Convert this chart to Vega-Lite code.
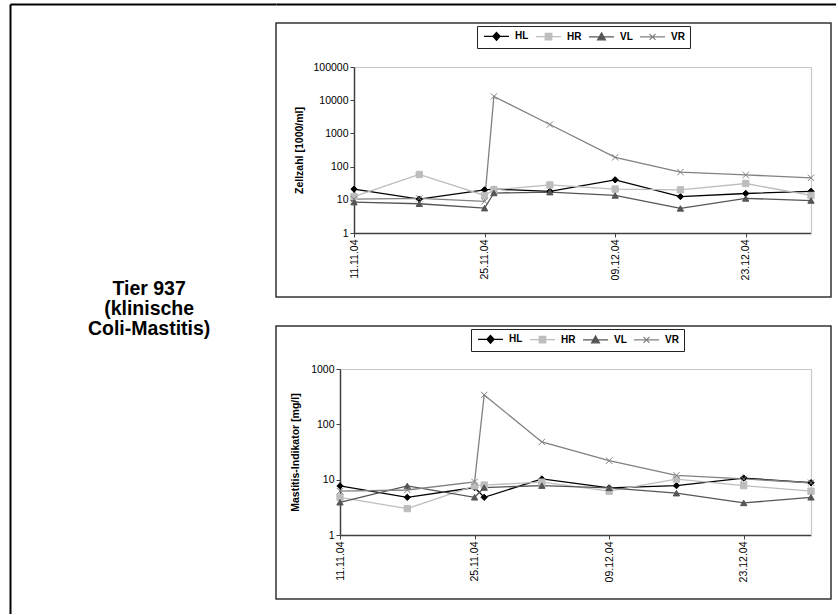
{
  "$schema": "https://vega.github.io/schema/vega-lite/v6.json",
  "background": "white",
  "padding": {"left": 10, "top": 4, "right": 0, "bottom": 0},
  "autosize": {"type": "pad"},
  "bounds": "flush",
  "spacing": 0,
  "resolve": {"legend": {"color": "independent", "stroke": "independent", "shape": "independent"}},
  "datasets": {
    "zell": [
      {"date": "2004-11-11", "series": "HL", "value": 21},
      {"date": "2004-11-18", "series": "HL", "value": 10.5},
      {"date": "2004-11-25", "series": "HL", "value": 20},
      {"date": "2004-11-26", "series": "HL", "value": 21},
      {"date": "2004-12-02", "series": "HL", "value": 18},
      {"date": "2004-12-09", "series": "HL", "value": 40},
      {"date": "2004-12-16", "series": "HL", "value": 12.5},
      {"date": "2004-12-23", "series": "HL", "value": 15.5},
      {"date": "2004-12-30", "series": "HL", "value": 18},
      {"date": "2004-11-11", "series": "HR", "value": 12.5},
      {"date": "2004-11-18", "series": "HR", "value": 58},
      {"date": "2004-11-25", "series": "HR", "value": 13.5},
      {"date": "2004-11-26", "series": "HR", "value": 20},
      {"date": "2004-12-02", "series": "HR", "value": 28},
      {"date": "2004-12-09", "series": "HR", "value": 21},
      {"date": "2004-12-16", "series": "HR", "value": 20},
      {"date": "2004-12-23", "series": "HR", "value": 31},
      {"date": "2004-12-30", "series": "HR", "value": 13.5},
      {"date": "2004-11-11", "series": "VL", "value": 8.5},
      {"date": "2004-11-18", "series": "VL", "value": 7.6},
      {"date": "2004-11-25", "series": "VL", "value": 5.6},
      {"date": "2004-11-26", "series": "VL", "value": 16},
      {"date": "2004-12-02", "series": "VL", "value": 17},
      {"date": "2004-12-09", "series": "VL", "value": 13.5},
      {"date": "2004-12-16", "series": "VL", "value": 5.5},
      {"date": "2004-12-23", "series": "VL", "value": 11},
      {"date": "2004-12-30", "series": "VL", "value": 9.5},
      {"date": "2004-11-11", "series": "VR", "value": 10.5},
      {"date": "2004-11-18", "series": "VR", "value": 11},
      {"date": "2004-11-25", "series": "VR", "value": 9},
      {"date": "2004-11-26", "series": "VR", "value": 13000},
      {"date": "2004-12-02", "series": "VR", "value": 1850},
      {"date": "2004-12-09", "series": "VR", "value": 190},
      {"date": "2004-12-16", "series": "VR", "value": 68},
      {"date": "2004-12-23", "series": "VR", "value": 56},
      {"date": "2004-12-30", "series": "VR", "value": 46}
    ],
    "mast": [
      {"date": "2004-11-11", "series": "HL", "value": 7.7},
      {"date": "2004-11-18", "series": "HL", "value": 4.8},
      {"date": "2004-11-25", "series": "HL", "value": 7.2},
      {"date": "2004-11-26", "series": "HL", "value": 4.8},
      {"date": "2004-12-02", "series": "HL", "value": 10.3},
      {"date": "2004-12-09", "series": "HL", "value": 7.1},
      {"date": "2004-12-16", "series": "HL", "value": 7.8},
      {"date": "2004-12-23", "series": "HL", "value": 10.7},
      {"date": "2004-12-30", "series": "HL", "value": 8.8},
      {"date": "2004-11-11", "series": "HR", "value": 4.8},
      {"date": "2004-11-18", "series": "HR", "value": 3.0},
      {"date": "2004-11-25", "series": "HR", "value": 7.7},
      {"date": "2004-11-26", "series": "HR", "value": 8},
      {"date": "2004-12-02", "series": "HR", "value": 9},
      {"date": "2004-12-09", "series": "HR", "value": 6.2},
      {"date": "2004-12-16", "series": "HR", "value": 10.2},
      {"date": "2004-12-23", "series": "HR", "value": 7.8},
      {"date": "2004-12-30", "series": "HR", "value": 6.2},
      {"date": "2004-11-11", "series": "VL", "value": 3.9},
      {"date": "2004-11-18", "series": "VL", "value": 7.7},
      {"date": "2004-11-25", "series": "VL", "value": 4.8},
      {"date": "2004-11-26", "series": "VL", "value": 7.2},
      {"date": "2004-12-02", "series": "VL", "value": 7.8},
      {"date": "2004-12-09", "series": "VL", "value": 7.1},
      {"date": "2004-12-16", "series": "VL", "value": 5.7},
      {"date": "2004-12-23", "series": "VL", "value": 3.8},
      {"date": "2004-12-30", "series": "VL", "value": 4.8},
      {"date": "2004-11-11", "series": "VR", "value": 6.2},
      {"date": "2004-11-18", "series": "VR", "value": 6.5},
      {"date": "2004-11-25", "series": "VR", "value": 9.1},
      {"date": "2004-11-26", "series": "VR", "value": 340},
      {"date": "2004-12-02", "series": "VR", "value": 48},
      {"date": "2004-12-09", "series": "VR", "value": 22},
      {"date": "2004-12-16", "series": "VR", "value": 12},
      {"date": "2004-12-23", "series": "VR", "value": 10.3},
      {"date": "2004-12-30", "series": "VR", "value": 8.8}
    ],
    "caption": [
      {"label": "Tier 937\n(klinische\nColi-Mastitis)"}
    ]
  },
  "hconcat": [
    {
      "width": 266,
      "height": 610,
      "view": {"stroke": null},
      "data": {"name": "caption"},
      "mark": {"type": "text", "font": "Liberation Sans", "fontWeight": "bold", "fontSize": 19.5, "lineBreak": "\n", "lineHeight": 20, "align": "center", "baseline": "middle", "color": "#000000"},
      "encoding": {
        "text": {"field": "label", "type": "nominal"},
        "x": {"datum": 0.523, "type": "quantitative", "scale": {"domain": [0, 1], "nice": false, "zero": false},
              "axis": {"orient": "top", "labels": false, "ticks": false, "grid": false, "title": null, "domainColor": "#000000", "domainWidth": 2}},
        "y": {"datum": 0.533, "type": "quantitative", "scale": {"domain": [0, 1], "nice": false, "zero": false},
              "axis": {"orient": "left", "labels": false, "ticks": false, "grid": false, "title": null, "domainColor": "#000000", "domainWidth": 2}}
      }
    },
    {
      "spacing": 0,
      "bounds": "flush",
      "resolve": {"legend": {"color": "independent", "stroke": "independent", "shape": "independent"}},
      "vconcat": [
        {
          "width": 560,
          "height": 19,
          "view": {"stroke": null},
          "data": {"values": []},
          "mark": "point",
          "encoding": {
            "x": {"datum": 0, "type": "quantitative", "scale": {"domain": [0, 1], "nice": false, "zero": false},
                  "axis": {"orient": "top", "labels": false, "ticks": false, "grid": false, "title": null, "domainColor": "#000000", "domainWidth": 2}}
          }
        },
        {
          "spacing": 29,
          "bounds": "flush",
          "resolve": {"legend": {"color": "independent", "stroke": "independent", "shape": "independent"}},
          "vconcat": [
            {
              "width": 555,
              "height": 274,
              "view": {"stroke": "#333333", "strokeWidth": 1.5},
              "data": {"name": "zell"},
              "resolve": {"scale": {"color": "independent", "shape": "independent", "stroke": "independent"}},
              "layer": [
                {
                  "mark": {"type": "line", "strokeWidth": 1.3},
                  "encoding": {
                    "x": {"field": "date", "type": "temporal",
                          "scale": {"type": "utc", "domain": [{"year": 2004, "month": 11, "date": 11, "utc": true}, {"year": 2004, "month": 12, "date": 30, "utc": true}], "range": [78, 535], "nice": false},
                          "axis": {"orient": "bottom", "offset": -64, "title": null, "format": "%d.%m.%y", "labelAngle": 270,
                                   "values": [{"year": 2004, "month": 11, "date": 11, "utc": true}, {"year": 2004, "month": 11, "date": 25, "utc": true}, {"year": 2004, "month": 12, "date": 9, "utc": true}, {"year": 2004, "month": 12, "date": 23, "utc": true}]}},
                    "y": {"field": "value", "type": "quantitative",
                          "scale": {"type": "log", "domain": [1, 100000], "range": [210, 44], "nice": false},
                          "axis": {"orient": "left", "offset": -78, "title": "Zellzahl [1000/ml]", "format": "d", "values": [1, 10, 100, 1000, 10000, 100000], "titlePadding": 8}},
                    "stroke": {"field": "series", "type": "nominal",
                               "scale": {"domain": ["VR", "VL", "HR", "HL"], "range": ["#808080", "#555555", "#bdbdbd", "#000000"]},
                               "legend": null}
                  }
                },
                {
                  "mark": {"type": "point", "filled": true, "size": 40, "opacity": 1, "strokeWidth": 1},
                  "encoding": {
                    "x": {"field": "date", "type": "temporal",
                          "axis": {"orient": "top", "offset": -44, "labels": false, "ticks": false, "title": null, "domainColor": "#c8c8c8", "domainWidth": 1.2}},
                    "y": {"field": "value", "type": "quantitative",
                          "axis": {"orient": "right", "offset": -20, "labels": false, "ticks": false, "title": null, "domainColor": "#c8c8c8", "domainWidth": 1.2}},
                    "stroke": {"field": "series", "type": "nominal",
                               "scale": {"domain": ["VR", "VL", "HR", "HL"], "range": ["#808080", "#555555", "#bdbdbd", "#000000"]},
                               "legend": null},
                    "shape": {"field": "series", "type": "nominal",
                              "scale": {"domain": ["VR", "VL", "HR", "HL"], "range": ["M-1,-1L1,1M-1,1L1,-1", "triangle-up", "square", "diamond"]},
                              "legend": null},
                    "color": {"field": "series", "type": "nominal",
                              "scale": {"domain": ["VR", "VL", "HR", "HL"], "range": ["#808080", "#555555", "#bdbdbd", "#000000"]},
                              "legend": null}
                  }
                },
                {
                  "mark": {"type": "point", "filled": true, "size": 36, "opacity": 0},
                  "encoding": {
                    "color": {"field": "series", "type": "nominal",
                              "scale": {"domain": ["HL", "HR", "VL", "VR"], "range": ["#000000", "#bdbdbd", "#555555", "#808080"]},
                              "legend": {"orient": "none", "legendX": 201, "legendY": 3, "direction": "horizontal", "columns": 4, "title": null,
                                         "strokeColor": "#222222", "fillColor": "white", "padding": 5, "columnPadding": 4,
                                         "symbolSize": 36, "symbolOpacity": 1, "symbolStrokeWidth": 1.2, "labelOffset": 23,
                                         "labelFont": "Liberation Sans", "labelFontWeight": "bold", "labelFontSize": 10, "labelColor": "#000000"}},
                    "shape": {"field": "series", "type": "nominal",
                              "scale": {"domain": ["HL", "HR", "VL", "VR"], "range": [
                                "M-1,0L7.33,0M3.17,-1.3L4.37,0L3.17,1.3L1.97,0Z",
                                "M-1,0L7.33,0M2.07,-1.1L4.27,-1.1L4.27,1.1L2.07,1.1Z",
                                "M-1,0L7.33,0M3.17,-1.3L4.47,1L1.87,1Z",
                                "M-1,0L7.33,0M2.17,-1L4.17,1M2.17,1L4.17,-1"]},
                              "legend": {"symbolOpacity": 1}},
                    "stroke": {"field": "series", "type": "nominal",
                               "scale": {"domain": ["HL", "HR", "VL", "VR"], "range": ["#000000", "#bdbdbd", "#555555", "#808080"]},
                               "legend": {"symbolOpacity": 1}}
                  }
                }
              ]
            },
            {
              "width": 555,
              "height": 273,
              "view": {"stroke": "#333333", "strokeWidth": 1.5},
              "data": {"name": "mast"},
              "resolve": {"scale": {"color": "independent", "shape": "independent", "stroke": "independent"}},
              "layer": [
                {
                  "mark": {"type": "line", "strokeWidth": 1.3},
                  "encoding": {
                    "x": {"field": "date", "type": "temporal",
                          "scale": {"type": "utc", "domain": [{"year": 2004, "month": 11, "date": 11, "utc": true}, {"year": 2004, "month": 12, "date": 30, "utc": true}], "range": [64, 535], "nice": false},
                          "axis": {"orient": "bottom", "offset": -64, "title": null, "format": "%d.%m.%y", "labelAngle": 270,
                                   "values": [{"year": 2004, "month": 11, "date": 11, "utc": true}, {"year": 2004, "month": 11, "date": 25, "utc": true}, {"year": 2004, "month": 12, "date": 9, "utc": true}, {"year": 2004, "month": 12, "date": 23, "utc": true}]}},
                    "y": {"field": "value", "type": "quantitative",
                          "scale": {"type": "log", "domain": [1, 1000], "range": [209, 43], "nice": false},
                          "axis": {"orient": "left", "offset": -64, "title": "Mastitis-Indikator [mg/l]", "format": "d", "values": [1, 10, 100, 1000], "titlePadding": 10}},
                    "stroke": {"field": "series", "type": "nominal",
                               "scale": {"domain": ["VR", "VL", "HR", "HL"], "range": ["#808080", "#555555", "#bdbdbd", "#000000"]},
                               "legend": null}
                  }
                },
                {
                  "mark": {"type": "point", "filled": true, "size": 40, "opacity": 1, "strokeWidth": 1},
                  "encoding": {
                    "x": {"field": "date", "type": "temporal",
                          "axis": {"orient": "top", "offset": -43, "labels": false, "ticks": false, "title": null, "domainColor": "#c8c8c8", "domainWidth": 1.2}},
                    "y": {"field": "value", "type": "quantitative",
                          "axis": {"orient": "right", "offset": -20, "labels": false, "ticks": false, "title": null, "domainColor": "#c8c8c8", "domainWidth": 1.2}},
                    "stroke": {"field": "series", "type": "nominal",
                               "scale": {"domain": ["VR", "VL", "HR", "HL"], "range": ["#808080", "#555555", "#bdbdbd", "#000000"]},
                               "legend": null},
                    "shape": {"field": "series", "type": "nominal",
                              "scale": {"domain": ["VR", "VL", "HR", "HL"], "range": ["M-1,-1L1,1M-1,1L1,-1", "triangle-up", "square", "diamond"]},
                              "legend": null},
                    "color": {"field": "series", "type": "nominal",
                              "scale": {"domain": ["VR", "VL", "HR", "HL"], "range": ["#808080", "#555555", "#bdbdbd", "#000000"]},
                              "legend": null}
                  }
                },
                {
                  "mark": {"type": "point", "filled": true, "size": 36, "opacity": 0},
                  "encoding": {
                    "color": {"field": "series", "type": "nominal",
                              "scale": {"domain": ["HL", "HR", "VL", "VR"], "range": ["#000000", "#bdbdbd", "#555555", "#808080"]},
                              "legend": {"orient": "none", "legendX": 195, "legendY": 3, "direction": "horizontal", "columns": 4, "title": null,
                                         "strokeColor": "#222222", "fillColor": "white", "padding": 5, "columnPadding": 4,
                                         "symbolSize": 36, "symbolOpacity": 1, "symbolStrokeWidth": 1.2, "labelOffset": 23,
                                         "labelFont": "Liberation Sans", "labelFontWeight": "bold", "labelFontSize": 10, "labelColor": "#000000"}},
                    "shape": {"field": "series", "type": "nominal",
                              "scale": {"domain": ["HL", "HR", "VL", "VR"], "range": [
                                "M-1,0L7.33,0M3.17,-1.3L4.37,0L3.17,1.3L1.97,0Z",
                                "M-1,0L7.33,0M2.07,-1.1L4.27,-1.1L4.27,1.1L2.07,1.1Z",
                                "M-1,0L7.33,0M3.17,-1.3L4.47,1L1.87,1Z",
                                "M-1,0L7.33,0M2.17,-1L4.17,1M2.17,1L4.17,-1"]},
                              "legend": {"symbolOpacity": 1}},
                    "stroke": {"field": "series", "type": "nominal",
                               "scale": {"domain": ["HL", "HR", "VL", "VR"], "range": ["#000000", "#bdbdbd", "#555555", "#808080"]},
                               "legend": {"symbolOpacity": 1}}
                  }
                }
              ]
            }
          ]
        }
      ]
    }
  ],
  "config": {
    "font": "Liberation Sans",
    "legend": {"symbolOpacity": 1},
    "axis": {
      "grid": false,
      "labelFont": "Liberation Sans",
      "labelFontSize": 10.5,
      "labelColor": "#000000",
      "labelFlush": false,
      "labelOverlap": false,
      "labelPadding": 2,
      "tickSize": 4,
      "tickColor": "#404040",
      "domainColor": "#404040",
      "domainWidth": 1.5,
      "titleFont": "Liberation Sans",
      "titleFontSize": 10.5,
      "titleFontWeight": "bold",
      "titleColor": "#000000"
    }
  }
}
